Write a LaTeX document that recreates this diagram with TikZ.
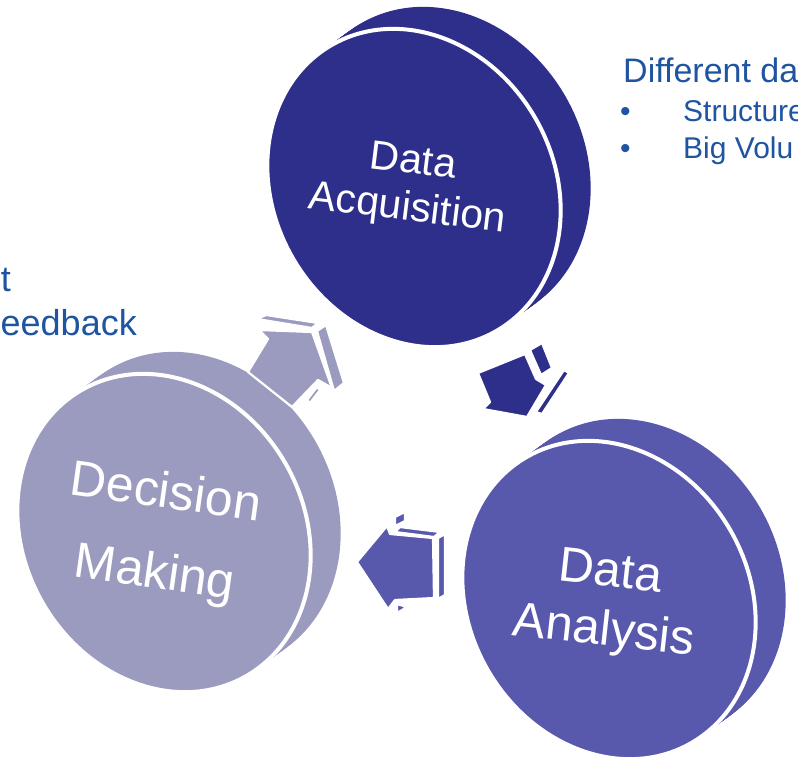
\documentclass[tikz,border=0pt]{standalone}
\usepackage{fontspec}
\setmainfont{Liberation Sans}
\definecolor{cA}{RGB}{46,47,138}
\definecolor{cB}{RGB}{88,88,173}
\definecolor{cC}{RGB}{155,155,191}
\definecolor{txtblue}{RGB}{30,84,160}
\newcommand{\mydisc}[3]{%
  \foreach \k in {0,...,20}{%
    \fill[#3, shift={({#1+1.5*\k},{#2-1.1*\k})}, rotate=-60] (0,0) ellipse [x radius=165pt, y radius=140pt];}
  \filldraw[#3, draw=white, line width=4pt, shift={(#1,#2)}, rotate=-60] (0,0) ellipse [x radius=165pt, y radius=140pt];
}
\tikzset{
  disctext/.style={text=white, align=center, inner sep=0pt},
  face/.style={draw=white, line width=2.2pt, line join=round},
  note/.style={text=txtblue, inner sep=0pt}
}
\begin{document}
\begin{tikzpicture}[x=1pt,y=-1pt]
\useasboundingbox (0,0) rectangle (798,762);
\clip (0,0) rectangle (798,762);

% discs
\mydisc{414}{188}{cA}
\mydisc{609}{600}{cB}
\mydisc{164}{533}{cC}

% arrow DM -> DA (lavender)
\filldraw[face, fill=cC] (259,330) -- (312,332) -- (332,388) -- (318,380) -- (292,407) -- (248,372) -- (268,339) -- cycle;
\filldraw[face, fill=cC] (257,319) -- (266,315) -- (318,323) -- (312,328) -- cycle;
\filldraw[face, fill=cC] (317,331) -- (326,325) -- (344,383) -- (334,391) -- cycle;
\filldraw[face, fill=cC] (307,400) -- (317,387) -- (320,390) -- (310,403) -- cycle;

% arrow DA -> DAn (navy)
\filldraw[face, fill=cA] (478,373) -- (525,354) -- (536,379) -- (546,385) -- (527,417) -- (483,409) -- (490,402) -- cycle;
\filldraw[face, fill=cA] (530,350) -- (542,343) -- (552,368) -- (541,375) -- cycle;
\filldraw[face, fill=cA] (536,412) -- (564,370) -- (569,373) -- (542,414) -- cycle;

% arrow DAn -> DM (mid purple)
\filldraw[face, fill=cB] (357,562) -- (387,526) -- (390,534) -- (433,538) -- (434,598) -- (395,600) -- (388,609) -- cycle;
\filldraw[face, fill=cB] (400,527) -- (440,532) -- (434,537) -- (395,532) -- cycle;
\filldraw[face, fill=cB] (438,538) -- (445,534) -- (445,595) -- (438,599) -- cycle;
\filldraw[face, fill=cB] (395,517) -- (405,512) -- (405,521) -- (395,526) -- cycle;
\filldraw[face, fill=cB] (397,604) -- (407,607) -- (397,613) -- cycle;

% disc labels
\node[disctext, rotate=-7, font=\fontsize{41}{47}\selectfont] (acq) at (410,187) {Data\\Acquisition};
\node[disctext, rotate=-6.3, font=\fontsize{49}{59}\selectfont] (ana) at (607,604) {Data\\Analysis};
\node[disctext, rotate=-8, font=\fontsize{50}{81}\selectfont] (dec) at (160,535) {Decision\\Making};

% side notes
\node[note, anchor=base west, font=\fontsize{34}{40}\selectfont] (diff) at (623,83) {Different da};
\node[note, anchor=base west, font=\fontsize{30}{36}\selectfont] (b1) at (620,122) {•};
\node[note, anchor=base west, font=\fontsize{30}{36}\selectfont] (s1) at (683,122) {Structure};
\node[note, anchor=base west, font=\fontsize{30}{36}\selectfont] (b2) at (620,159) {•};
\node[note, anchor=base west, font=\fontsize{30}{36}\selectfont] (s2) at (683,159) {Big Volu};
\node[note, anchor=base east, font=\fontsize{36}{42}\selectfont] (l1) at (11,291) {t};
\node[note, anchor=base east, font=\fontsize{36}{42}\selectfont] (l2) at (137,335) {eedback};
\end{tikzpicture}
\end{document}
